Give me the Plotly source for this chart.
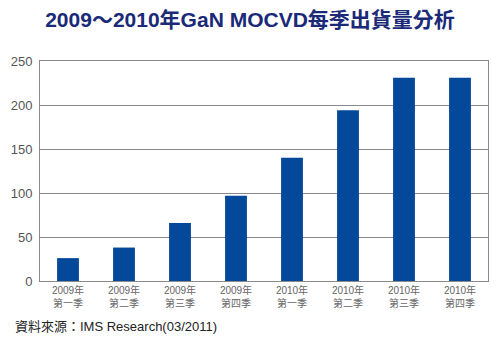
import plotly.graph_objects as go

categories = ["2009年<br>第一季", "2009年<br>第二季", "2009年<br>第三季", "2009年<br>第四季",
              "2010年<br>第一季", "2010年<br>第二季", "2010年<br>第三季", "2010年<br>第四季"]
values = [26, 38, 66, 97, 140, 194, 231, 231]
y_ticks = [0, 50, 100, 150, 200, 250]

title_text = "2009～2010年GaN MOCVD每季出貨量分析"
source_text = "資料來源：IMS Research(03/2011)"

fig = go.Figure()
fig.add_trace(go.Bar(
    x=list(range(len(categories))), y=values,
    marker=dict(color="#03489a", line=dict(width=0)),
    width=0.39,
))

fig.update_layout(
    width=500, height=342,
    margin=dict(l=37, r=11, t=61, b=61),
    paper_bgcolor="white", plot_bgcolor="white",
    showlegend=False,
    title=dict(text="<b>" + title_text + "</b>", x=0.5, xanchor="center",
               y=1 - 20 / 342, yanchor="middle",
               font=dict(family="Liberation Sans, Noto Sans CJK TC", size=21, color="#1a2a78")),
    xaxis=dict(
        tickmode="array", tickvals=list(range(len(categories))), ticktext=categories,
        range=[-0.5, len(categories) - 0.5],
        showgrid=False, zeroline=False,
        showline=True, linecolor="#8a8a8a", linewidth=1, mirror=True,
        ticks="", tickfont=dict(family="Liberation Sans, Noto Sans CJK TC", size=10, color="#666666"),
    ),
    yaxis=dict(
        range=[0, 250], tickvals=y_ticks,
        showgrid=True, gridcolor="#8a8a8a", gridwidth=1,
        zeroline=False,
        showline=True, linecolor="#8a8a8a", linewidth=1, mirror=True,
        ticks="", ticklabelstandoff=4,
        tickfont=dict(family="Liberation Sans", size=13, color="#555555"),
    ),
)
plot_w = 500 - 37 - 11
plot_h = 342 - 61 - 61
fig.add_annotation(
    text=source_text, x=(10 - 37) / plot_w, y=(342 - 326 - 61) / plot_h,
    xref="paper", yref="paper", xanchor="left", yanchor="middle", showarrow=False,
    font=dict(family="Liberation Sans, Noto Sans CJK TC", size=13, color="#222222"),
)

fig.write_html("out.html")
